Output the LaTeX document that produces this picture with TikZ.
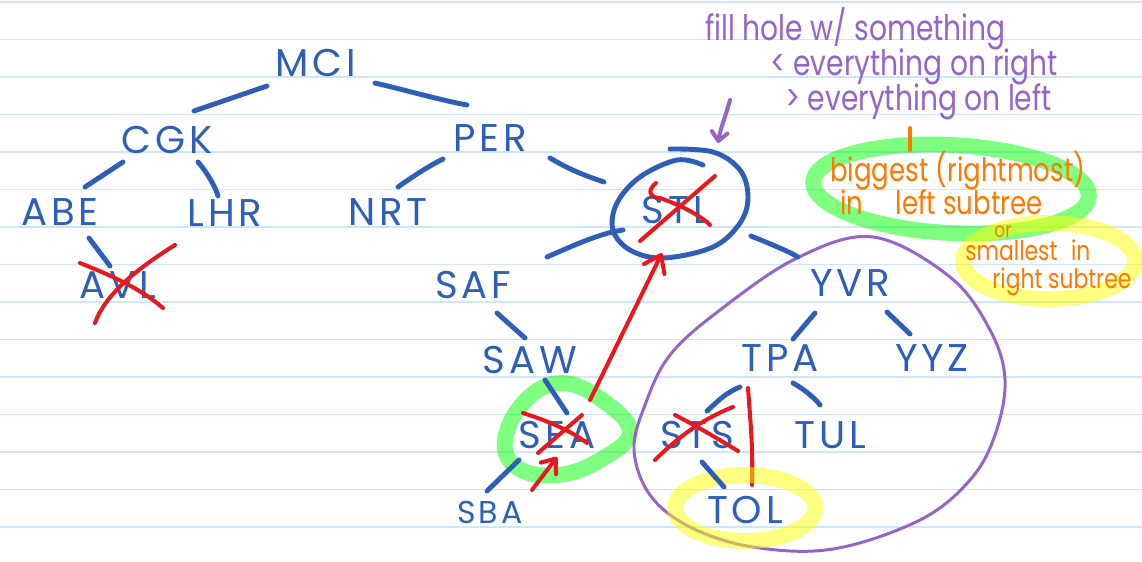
\documentclass[tikz,border=0pt]{standalone}
\usepackage{fontspec}
\setmainfont{Poppins}
\newfontfamily\apfam{Poppins}[LetterSpace=10]
\newfontfamily\notefam{Poppins}[FakeStretch=0.8]
\usetikzlibrary{calc,arrows.meta}
\definecolor{inkblue}{RGB}{45,95,185}
\definecolor{inkred}{RGB}{232,25,30}
\definecolor{inkpurple}{RGB}{150,100,200}
\definecolor{inkorange}{RGB}{255,120,0}
\definecolor{rulecol}{RGB}{205,230,250}
\definecolor{hlgreen}{RGB}{0,255,0}
\definecolor{hlyellow}{RGB}{255,255,0}
\tikzset{
  ap/.style={text=inkblue, inner sep=0pt, font={\apfam\fontsize{22}{26}\selectfont}},
  apsmall/.style={text=inkblue, inner sep=0pt, font={\apfam\fontsize{18}{20}\selectfont}},
  edge/.style={draw=inkblue, line width=2.8pt, line cap=round, line join=round},
  strike/.style={draw=inkred, line width=2.3pt, line cap=round, line join=round},
  hl/.style={line width=9pt, opacity=0.5},
  purplenote/.style={text=inkpurple, inner sep=0pt, font={\notefam\fontsize{20}{22}\selectfont}},
  orangenote/.style={text=inkorange, inner sep=0pt, font={\notefam\fontsize{18.5}{20}\selectfont}},
  orangesmall/.style={text=inkorange, inner sep=0pt, font={\notefam\fontsize{15.5}{17}\selectfont}},
  rule/.style={draw=rulecol, line width=0.9pt}
}
\begin{document}
\begin{tikzpicture}[x=0.02cm,y=-0.02cm]
\useasboundingbox (0,0) rectangle (1142,561);
\fill[white] (0,0) rectangle (1142,561);
\foreach \k in {0,...,14} \draw[rule] (0,2+37.5*\k) -- (1142,2+37.5*\k);

% green highlights
\draw[hl, draw=hlgreen] plot[smooth cycle, tension=0.7] coordinates {(505,440) (526,400) (562,383) (602,400) (630,432) (600,460) (558,475) (518,468)};
\draw[hl, draw=hlgreen, rotate around={-3:(951,189)}] (951,189) ellipse [x radius=138, y radius=44];

% purple ring around right subtree
\draw[draw=inkpurple, line width=1.7pt] plot[smooth cycle, tension=0.6] coordinates {(873,237) (950,277) (990,330) (1005,380) (995,435) (970,480) (920,520) (833,549) (753,547) (690,527) (650,495) (634,450) (645,405) (670,355) (720,310) (797,258)};

% nodes
\node[ap] (MCI) at (316,63) {MCI};
\node[ap] (CGK) at (167,140) {CGK};
\node[ap] (PER) at (490,138) {PER};
\node[ap] (ABE) at (60,212) {ABE};
\node[ap] (LHR) at (225,213) {LHR};
\node[ap] (NRT) at (388,212) {NRT};
\node[ap] (STL) at (676,210) {STL};
\node[ap] (AVL) at (118,285) {AVL};
\node[ap] (SAF) at (473,285) {SAF};
\node[ap] (YVR) at (850,283) {YVR};
\node[ap] (SAW) at (530,360) {SAW};
\node[ap] (TPA) at (780,358) {TPA};
\node[ap] (YYZ) at (932,358) {YYZ};
\node[ap] (SEA) at (557,435) {SEA};
\node[ap] (STS) at (697,435) {STS};
\node[ap] (TUL) at (830,435) {TUL};
\node[apsmall] (SBA) at (490,512) {SBA};
\node[ap] (TOL) at (745,510) {TOL};

% red line TPA to TOL (under yellow)
\draw[strike] ($(TPA)+(-32,30)$) .. controls ($(TPA)+(-29,70)$) and ($(TOL)+(8,-60)$) .. ($(TOL)+(7,-25)$);

% yellow highlights
\draw[hl, draw=hlyellow] (745,508) ellipse [x radius=70, y radius=33];
\draw[hl, draw=hlyellow] (1049,261) ellipse [x radius=86, y radius=38];

% tree edges
\draw[edge] ($(MCI)+(-49,23)$) -- ($(CGK)+(27,-29)$);
\draw[edge] ($(MCI)+(59,20)$) .. controls ($(MCI)+(89,27)$) and ($(PER)+(-50,-38)$) .. ($(PER)+(-23,-33)$);
\draw[edge] ($(CGK)+(-44,22)$) -- ($(ABE)+(25,-25)$);
\draw[edge] ($(CGK)+(31,22)$) .. controls ($(CGK)+(40,32)$) and ($(LHR)+(-9,-25)$) .. ($(LHR)+(-7,-17)$);
\draw[edge] ($(ABE)+(29,26)$) -- ($(AVL)+(-8,-19)$);
\draw[edge] ($(PER)+(-47,21)$) .. controls ($(PER)+(-65,30)$) and ($(NRT)+(20,-32)$) .. ($(NRT)+(10,-25)$);
\draw[edge] ($(PER)+(60,20)$) .. controls ($(PER)+(80,32)$) and ($(STL)+(-90,-34)$) .. ($(STL)+(-72,-28)$);
\draw[edge] ($(STL)+(-53,20)$) .. controls ($(STL)+(-76,23)$) and ($(SAF)+(97,-38)$) .. ($(SAF)+(74,-28)$);
\draw[edge] ($(STL)+(75,26)$) .. controls ($(STL)+(90,32)$) and ($(YVR)+(-62,-32)$) .. ($(YVR)+(-52,-26)$);
\draw[edge] ($(SAF)+(24,28)$) -- ($(SAW)+(-5,-22)$);
\draw[edge] ($(SAW)+(15,20)$) -- ($(SEA)+(10,-22)$);
\draw[edge] ($(SEA)+(-38,25)$) -- ($(SBA)+(-3,-21)$);
\draw[edge] ($(YVR)+(-35,30)$) -- ($(TPA)+(13,-19)$);
\draw[edge] ($(YVR)+(37,29)$) -- ($(YYZ)+(-22,-24)$);
\draw[edge] ($(TPA)+(-40,29)$) .. controls ($(TPA)+(-55,35)$) and ($(STS)+(20,-33)$) .. ($(STS)+(10,-24)$);
\draw[edge] ($(TPA)+(13,25)$) .. controls ($(TPA)+(22,30)$) and ($(TUL)+(-16,-38)$) .. ($(TUL)+(-10,-30)$);
\draw[edge] ($(STS)+(5,27)$) -- ($(TOL)+(-21,-23)$);

% circle around STL
\draw[edge] plot[smooth, tension=0.6] coordinates {(670,149) (713,152) (740,170) (748,197) (740,223) (713,247) (663,258) (630,250) (613,230) (617,203) (640,177) (677,160) (703,165)};

% red strikes
\draw[strike] (80,263) .. controls (110,275) and (140,288) .. (163,308);
\draw[strike] (175,245) .. controls (135,270) and (105,295) .. (95,323);
\draw[strike] (715,176) -- (640,241);
\draw[strike] (656,183) .. controls (645,192) and (652,198) .. (660,198) .. controls (680,205) and (700,215) .. (710,225);
\draw[strike] (523,413) .. controls (545,420) and (570,430) .. (587,443);
\draw[strike] (582,415) -- (538,453);
\draw[strike] (733,407) .. controls (700,420) and (675,440) .. (655,460);
\draw[strike] (675,415) .. controls (700,428) and (720,440) .. (738,451);

% red arrows
\draw[strike, -{Straight Barb[length=9pt, width=13pt, round]}] ($(SEA)+(33,-35)$) -- ($(STL)+(-14,43)$);
\draw[strike, -{Straight Barb[length=7pt, width=11pt, round]}] ($(SBA)+(42,-22)$) -- ($(SEA)+(0,22)$);

% purple notes
\node[purplenote, anchor=base west] (note1) at (705,40) {fill hole w/ something};
\node[purplenote, anchor=base west] (note2) at (770,75) {< everything on right};
\node[purplenote, anchor=base west] (note3) at (785,110) {> everything on left};
\draw[draw=inkpurple, line width=2.3pt, line cap=round, -{Straight Barb[length=5pt, width=9pt, round]}] ($(STL)+(54,-110)$) .. controls ($(STL)+(50,-95)$) and ($(STL)+(44,-80)$) .. ($(STL)+(42,-67)$);

% orange notes
\node[orangenote, anchor=base west] (or1) at (830,181) {biggest (rightmost)};
\node[orangenote, anchor=base west] (or2) at (840,214) {in\quad left subtree};
\node[orangenote, anchor=base, font={\notefam\fontsize{12}{14}\selectfont}] (or3) at (1003,237) {or};
\node[orangesmall, anchor=base west] (or4) at (965,260) {smallest\enspace in};
\node[orangesmall, anchor=base west] (or5) at (992,288) {right subtree};
\draw[draw=inkorange, line width=2.3pt, line cap=round] (910,128) -- (910,150);
\end{tikzpicture}
\end{document}
